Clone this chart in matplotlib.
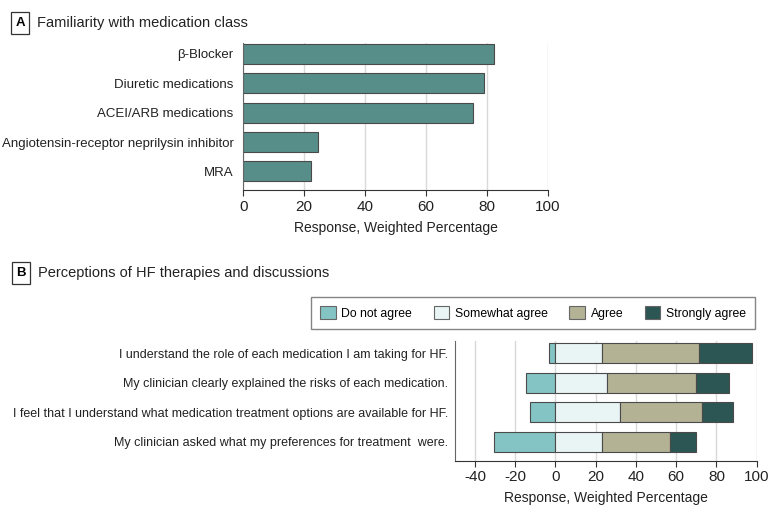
import numpy as np
import matplotlib
matplotlib.use("Agg")
import matplotlib.pyplot as plt
from matplotlib.patches import Patch

plt.rcParams['font.family'] = ['Liberation Sans', 'DejaVu Sans']

# panel A data
med_classes = ["\u03b2-Blocker", "Diuretic medications", "ACEI/ARB medications",
               "Angiotensin-receptor neprilysin inhibitor", "MRA"]
familiar_pct = [82.5, 79.1, 75.4, 24.7, 22.4]

# panel B data
statements = ["I understand the role of each medication I am taking for HF.",
              "My clinician clearly explained the risks of each medication.",
              "I feel that I understand what medication treatment options are available for HF.",
              "My clinician asked what my preferences for treatment  were."]
do_not_agree = [3.0, 14.5, 12.6, 30.8]
somewhat_agree = [23.3, 25.7, 32.2, 23.3]
agree = [47.8, 44.0, 40.4, 33.6]
strongly_agree = [26.4, 16.4, 15.4, 13.1]
resp_labels = ["Do not agree", "Somewhat agree", "Agree", "Strongly agree"]
resp_colors = ["#84c4c4", "#e9f4f5", "#b3b295", "#2c5653"]

edge = "#4a4a4a"
grid_c = "#d9d9d9"
txt_c = "#222222"

fig = plt.figure(figsize=(7.8, 5.15), dpi=100)

def style_axes(ax, ylab_size):
    for s in ["top", "right"]:
        ax.spines[s].set_visible(False)
    ax.spines["left"].set_color("#666666")
    ax.spines["bottom"].set_color("#333333")
    ax.tick_params(axis="y", length=0, pad=7, labelsize=ylab_size, colors=txt_c)
    ax.tick_params(axis="x", length=4, color="#333333", labelsize=11, colors=txt_c, pad=3)
    ax.xaxis.grid(True, color=grid_c, linewidth=1)
    ax.set_axisbelow(True)

# ---- panel A
axA = fig.add_axes([0.3119, 0.6311, 0.3903, 0.2854])
yA = np.arange(len(med_classes))
axA.barh(yA, familiar_pct, height=0.68, color="#588e8a", edgecolor=edge, linewidth=0.8)
axA.set_xlim(0, 100)
axA.set_ylim(4.63, -0.37)
axA.set_yticks(yA)
axA.set_yticklabels(med_classes)
axA.set_xticks([0, 20, 40, 60, 80, 100])
style_axes(axA, 9.5)
axA.set_xlabel("Response, Weighted Percentage", fontsize=10, labelpad=5, color=txt_c)

# ---- panel B
axB = fig.add_axes([0.5832, 0.1058, 0.3869, 0.2321])
yB = np.arange(len(statements))
dna = np.array(do_not_agree)
swa = np.array(somewhat_agree)
ag = np.array(agree)
sa = np.array(strongly_agree)
axB.barh(yB, -dna, height=0.68, color=resp_colors[0], edgecolor=edge, linewidth=0.8)
axB.barh(yB, swa, height=0.68, color=resp_colors[1], edgecolor=edge, linewidth=0.8)
axB.barh(yB, ag, left=swa, height=0.68, color=resp_colors[2], edgecolor=edge, linewidth=0.8)
axB.barh(yB, sa, left=swa + ag, height=0.68, color=resp_colors[3], edgecolor=edge, linewidth=0.8)
axB.set_xlim(-50, 100)
axB.set_ylim(3.64, -0.42)
axB.set_yticks(yB)
axB.set_yticklabels(statements)
axB.set_xticks([-40, -20, 0, 20, 40, 60, 80, 100])
axB.set_xticklabels(["-40", "-20", "0", "20", "40", "60", "80", "100"])
style_axes(axB, 9.0)
axB.tick_params(axis="y", pad=5)
axB.set_xlabel("Response, Weighted Percentage", fontsize=10, labelpad=5, color=txt_c)

# panel headers
box = dict(boxstyle="square,pad=0.35", facecolor="white", edgecolor="#333333", linewidth=0.9)
fig.text(20 / 780, 1 - 23 / 515, "A", fontsize=9.5, fontweight="bold", ha="center", va="center", bbox=box)
fig.text(37 / 780, 1 - 23 / 515, "Familiarity with medication class", fontsize=10.5, va="center", color=txt_c)
fig.text(21 / 780, 1 - 273 / 515, "B", fontsize=9.5, fontweight="bold", ha="center", va="center", bbox=box)
fig.text(38 / 780, 1 - 273 / 515, "Perceptions of HF therapies and discussions", fontsize=10.5, va="center", color=txt_c)

# legend
handles = [Patch(facecolor=c, edgecolor="#666666", linewidth=0.8) for c in resp_colors]
leg = fig.legend(handles, resp_labels, loc="center", ncol=4,
                 bbox_to_anchor=(533 / 780, 1 - 313 / 515),
                 fontsize=8.8, frameon=True, fancybox=False, handlelength=1.3,
                 handleheight=1.3, handletextpad=0.45, columnspacing=1.75,
                 borderaxespad=0, borderpad=0.75)
leg.get_frame().set_edgecolor("#666666")
leg.get_frame().set_linewidth(1.0)

fig.savefig("out.png", dpi=100)
